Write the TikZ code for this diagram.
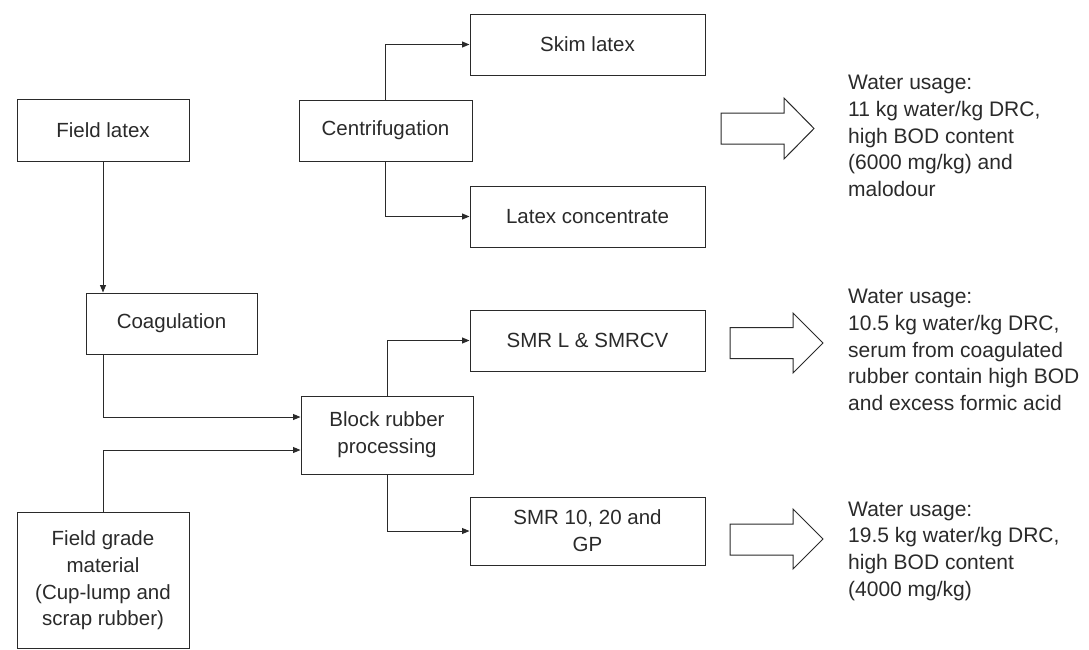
\documentclass[tikz,border=0pt]{standalone}
\usepackage{fontspec}
\setmainfont{Liberation Sans}
\usetikzlibrary{arrows.meta}
\definecolor{ink}{HTML}{2A2A2A}
\tikzset{
  box/.style={draw=ink, line width=1pt, rectangle, inner sep=0pt, align=center, text=ink,
    font=\fontsize{20.5}{26.7}\selectfont},
  flow/.style={draw=ink, line width=1pt, -{Triangle[length=7.5pt,width=6pt]}},
  bigarrow/.style={draw=ink, line width=1pt, fill=white},
  note/.style={anchor=west, align=left, inner sep=0pt, text=ink, font=\fontsize{21}{26.7}\selectfont}
}
\begin{document}
\begin{tikzpicture}[x=1pt,y=-1pt]
\useasboundingbox (0,0) rectangle (1089,649);
% boxes
\node[box, minimum width=172pt, minimum height=62pt] (fl) at (103,130) {Field latex};
\node[box, minimum width=173pt, minimum height=61pt] (cen) at (385.5,130.5) {Centrifugation};
\node[box, minimum width=235pt, minimum height=61pt] (skim) at (587.5,44.5) {Skim latex};
\node[box, minimum width=235pt, minimum height=61pt] (conc) at (587.5,216.5) {Latex concentrate};
\node[box, minimum width=171pt, minimum height=61pt] (coag) at (171.5,323.5) {Coagulation};
\node[box, minimum width=172pt, minimum height=78pt] (block) at (387,435) {Block rubber\\processing};
\node[box, minimum width=235pt, minimum height=61pt] (smrl) at (587.5,340.5) {SMR L \& SMRCV};
\node[box, minimum width=235pt, minimum height=68pt] (smr10) at (587.5,531) {SMR 10, 20 and\\GP};
\node[box, minimum width=172pt, minimum height=136pt] (fg) at (103,580.5) {Field grade\\material\\(Cup-lump and\\scrap rubber)};
% connectors
\draw[flow] (fl.south) -- (fl.south |- coag.north);
\draw[flow] (cen.north) |- (skim.west);
\draw[flow] (cen.south) |- (conc.west);
\coordinate (bin1) at ([yshift=18pt]block.west);
\coordinate (bin2) at ([yshift=-15pt]block.west);
\draw[flow] (coag.south -| fl.south) |- (bin1);
\draw[flow] (fg.north) |- (bin2);
\draw[flow] (block.north) |- (smrl.west);
\draw[flow] (block.south) |- (smr10.west);
% block arrows
\draw[bigarrow] (721,113) -- (784,113) -- (784,98) -- (814,128.5) -- (784,159) -- (784,144) -- (721,144) -- cycle;
\draw[bigarrow] (730,327.5) -- (793,327.5) -- (793,313) -- (823,343) -- (793,373) -- (793,358.5) -- (730,358.5) -- cycle;
\draw[bigarrow] (730,524) -- (793,524) -- (793,509) -- (823,539) -- (793,569) -- (793,555) -- (730,555) -- cycle;
% notes
\node[note] (n1) at (848,136) {Water usage:\\11 kg water/kg DRC,\\high BOD content\\(6000 mg/kg) and\\malodour};
\node[note] (n2) at (848,350) {Water usage:\\10.5 kg water/kg DRC,\\serum from coagulated\\rubber contain high BOD\\and excess formic acid};
\node[note] (n3) at (848,551) {Water usage:\\19.5 kg water/kg DRC,\\high BOD content\\(4000 mg/kg)};
\end{tikzpicture}
\end{document}
